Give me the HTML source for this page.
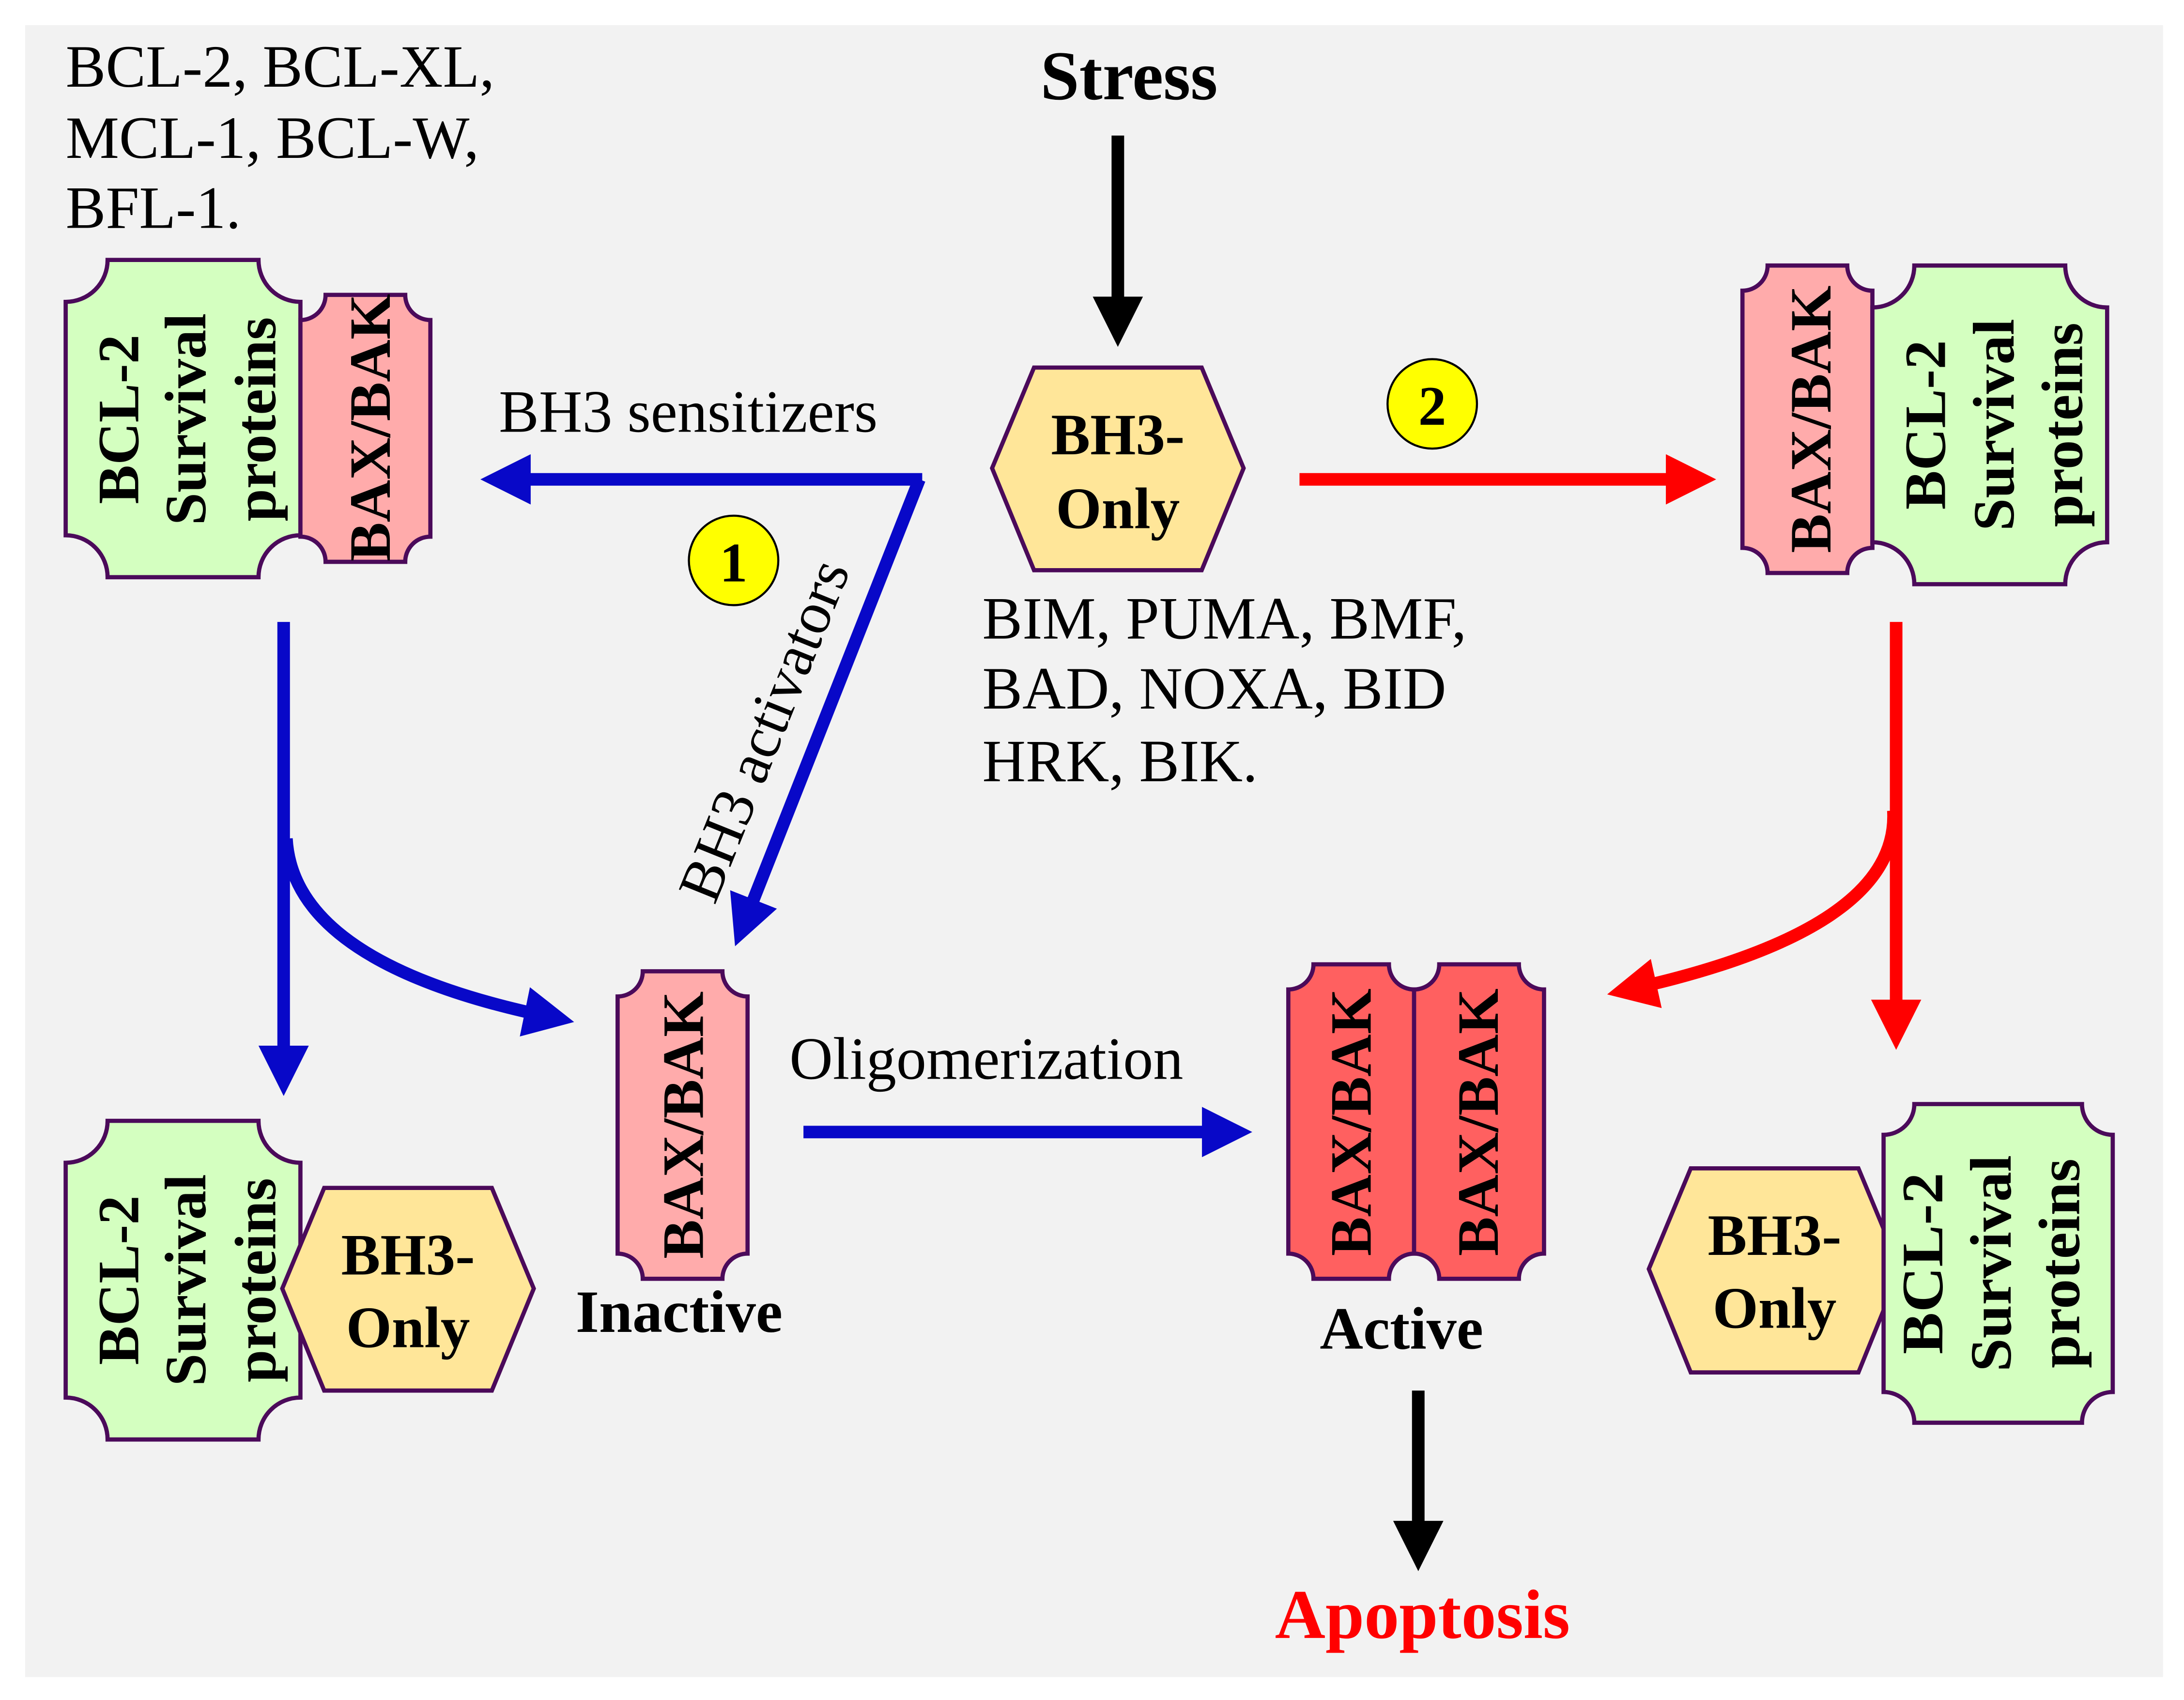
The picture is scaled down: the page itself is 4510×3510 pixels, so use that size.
<!DOCTYPE html>
<html><head><style>html,body{margin:0;padding:0;background:#fff}svg{display:block}</style></head>
<body>
<svg width="4510" height="3510" viewBox="0 0 1563 1216.4" preserveAspectRatio="none" xmlns="http://www.w3.org/2000/svg" font-family="Liberation Serif, serif">
<defs>
<marker id="hb" markerWidth="4" markerHeight="4" refX="2.2" refY="2" orient="auto" markerUnits="strokeWidth"><path d="M0,0 L4,2 L0,4 Z" fill="#0808c8"/></marker>
<marker id="hr" markerWidth="4" markerHeight="4" refX="2.2" refY="2" orient="auto" markerUnits="strokeWidth"><path d="M0,0 L4,2 L0,4 Z" fill="#ff0000"/></marker>
<marker id="hk" markerWidth="4" markerHeight="4" refX="2.2" refY="2" orient="auto" markerUnits="strokeWidth"><path d="M0,0 L4,2 L0,4 Z" fill="#000"/></marker>
</defs>
<rect x="18" y="18" width="1530" height="1182" fill="#f2f2f2"/>
<g stroke="#4b0a5a" stroke-width="3">
<path d="M77,186 H185 A30,30 0 0 0 215,216 V383 A30,30 0 0 0 185,413 H77 A30,30 0 0 0 47,383 V216 A30,30 0 0 0 77,186 Z" fill="#d4ffc0"/>
<path d="M233,211 H290 A18,18 0 0 0 308,229 V384 A18,18 0 0 0 290,402 H233 A18,18 0 0 0 215,384 V229 A18,18 0 0 0 233,211 Z" fill="#ffabab"/>
<path d="M1265,190 H1322 A18,18 0 0 0 1340,208 V392 A18,18 0 0 0 1322,410 H1265 A18,18 0 0 0 1247,392 V208 A18,18 0 0 0 1265,190 Z" fill="#ffabab"/>
<path d="M1370,190 H1478 A30,30 0 0 0 1508,220 V388 A30,30 0 0 0 1478,418 H1370 A30,30 0 0 0 1340,388 V220 A30,30 0 0 0 1370,190 Z" fill="#d4ffc0"/>
<path d="M77,802 H185 A30,30 0 0 0 215,832 V1000 A30,30 0 0 0 185,1030 H77 A30,30 0 0 0 47,1000 V832 A30,30 0 0 0 77,802 Z" fill="#d4ffc0"/>
<polygon points="202,922 232,850 352,850 382,922 352,995 232,995" fill="#ffe699"/>
<path d="M460,695 H517 A18,18 0 0 0 535,713 V897 A18,18 0 0 0 517,915 H460 A18,18 0 0 0 442,897 V713 A18,18 0 0 0 460,695 Z" fill="#ffabab"/>
<path d="M940,690 H994 A18,18 0 0 0 1012,708 V897 A18,18 0 0 0 994,915 H940 A18,18 0 0 0 922,897 V708 A18,18 0 0 0 940,690 Z" fill="#ff6060"/>
<path d="M1030,690 H1087 A18,18 0 0 0 1105,708 V897 A18,18 0 0 0 1087,915 H1030 A18,18 0 0 0 1012,897 V708 A18,18 0 0 0 1030,690 Z" fill="#ff6060"/>
<polygon points="1180,908 1210,836 1330,836 1360,908 1330,982 1210,982" fill="#ffe699"/>
<path d="M1370,790 H1490 A22,22 0 0 0 1512,812 V996 A22,22 0 0 0 1490,1018 H1370 A22,22 0 0 0 1348,996 V812 A22,22 0 0 0 1370,790 Z" fill="#d4ffc0"/>
<polygon points="710,335 740,263 860,263 890,335 860,408 740,408" fill="#ffe699"/>
</g>
<g fill="none" stroke-width="9">
<line x1="800" y1="97" x2="800" y2="232" stroke="#000" marker-end="url(#hk)"/>
<polyline points="660,343 360,343" stroke="#0808c8" marker-end="url(#hb)"/>
<line x1="658" y1="343" x2="532" y2="662" stroke="#0808c8" marker-end="url(#hb)"/>
<line x1="930" y1="343" x2="1212" y2="343" stroke="#ff0000" marker-end="url(#hr)"/>
<line x1="203" y1="445" x2="203" y2="768" stroke="#0808c8" marker-end="url(#hb)"/>
<path d="M205,600 Q210,690 395,728" stroke="#0808c8" marker-end="url(#hb)"/>
<line x1="575" y1="810" x2="880" y2="810" stroke="#0808c8" marker-end="url(#hb)"/>
<line x1="1357" y1="445" x2="1357" y2="735" stroke="#ff0000" marker-end="url(#hr)"/>
<path d="M1355,580 Q1360,665 1166,708" stroke="#ff0000" marker-end="url(#hr)"/>
<line x1="1015" y1="995" x2="1015" y2="1108" stroke="#000" marker-end="url(#hk)"/>
</g>
<circle cx="525" cy="401" r="32" fill="#ffff00" stroke="#000" stroke-width="1.5"/>
<circle cx="1025" cy="289" r="32" fill="#ffff00" stroke="#000" stroke-width="1.5"/>
<g font-size="43" fill="#000">
<text x="47" y="62">BCL-2, BCL-XL,</text>
<text x="47" y="113">MCL-1, BCL-W,</text>
<text x="47" y="163">BFL-1.</text>
<text x="703" y="457">BIM, PUMA, BMF,</text>
<text x="703" y="507">BAD, NOXA, BID</text>
<text x="703" y="559">HRK, BIK.</text>
<text x="357" y="309">BH3 sensitizers</text>
<text x="565" y="772">Oligomerization</text>
<text transform="translate(560,528) rotate(-68)" text-anchor="middle">BH3 activators</text>
</g>
<g font-weight="bold" text-anchor="middle" fill="#000">
<text x="808" y="71" font-size="50">Stress</text>
<text x="525" y="416" font-size="40">1</text>
<text x="1025" y="304" font-size="40">2</text>
<text x="800" y="325" font-size="42">BH3-</text>
<text x="800" y="378" font-size="42">Only</text>
<text x="292" y="912" font-size="42">BH3-</text>
<text x="292" y="964" font-size="42">Only</text>
<text x="1270" y="898" font-size="42">BH3-</text>
<text x="1270" y="950" font-size="42">Only</text>
<text x="486" y="953" font-size="43">Inactive</text>
<text x="1003" y="965" font-size="43">Active</text>
<text x="1018" y="1172" font-size="50" fill="#ff0000">Apoptosis</text>
<g font-size="42">
<text transform="translate(99,300) rotate(-90)">BCL-2</text>
<text transform="translate(147,300) rotate(-90)">Survival</text>
<text transform="translate(197,300) rotate(-90)">proteins</text>
<text transform="translate(279,306) rotate(-90)">BAX/BAK</text>
<text transform="translate(1310,300) rotate(-90)">BAX/BAK</text>
<text transform="translate(1392,304) rotate(-90)">BCL-2</text>
<text transform="translate(1441,304) rotate(-90)">Survival</text>
<text transform="translate(1490,304) rotate(-90)">proteins</text>
<text transform="translate(99,916) rotate(-90)">BCL-2</text>
<text transform="translate(147,916) rotate(-90)">Survival</text>
<text transform="translate(197,916) rotate(-90)">proteins</text>
<text transform="translate(503,805) rotate(-90)">BAX/BAK</text>
<text transform="translate(981,803) rotate(-90)">BAX/BAK</text>
<text transform="translate(1072,803) rotate(-90)">BAX/BAK</text>
<text transform="translate(1390,904) rotate(-90)" textLength="130" lengthAdjust="spacingAndGlyphs">BCL-2</text>
<text transform="translate(1439,904) rotate(-90)" textLength="155" lengthAdjust="spacingAndGlyphs">Survival</text>
<text transform="translate(1488,904) rotate(-90)" textLength="150" lengthAdjust="spacingAndGlyphs">proteins</text>
</g>
</g>
</svg>
</body></html>
